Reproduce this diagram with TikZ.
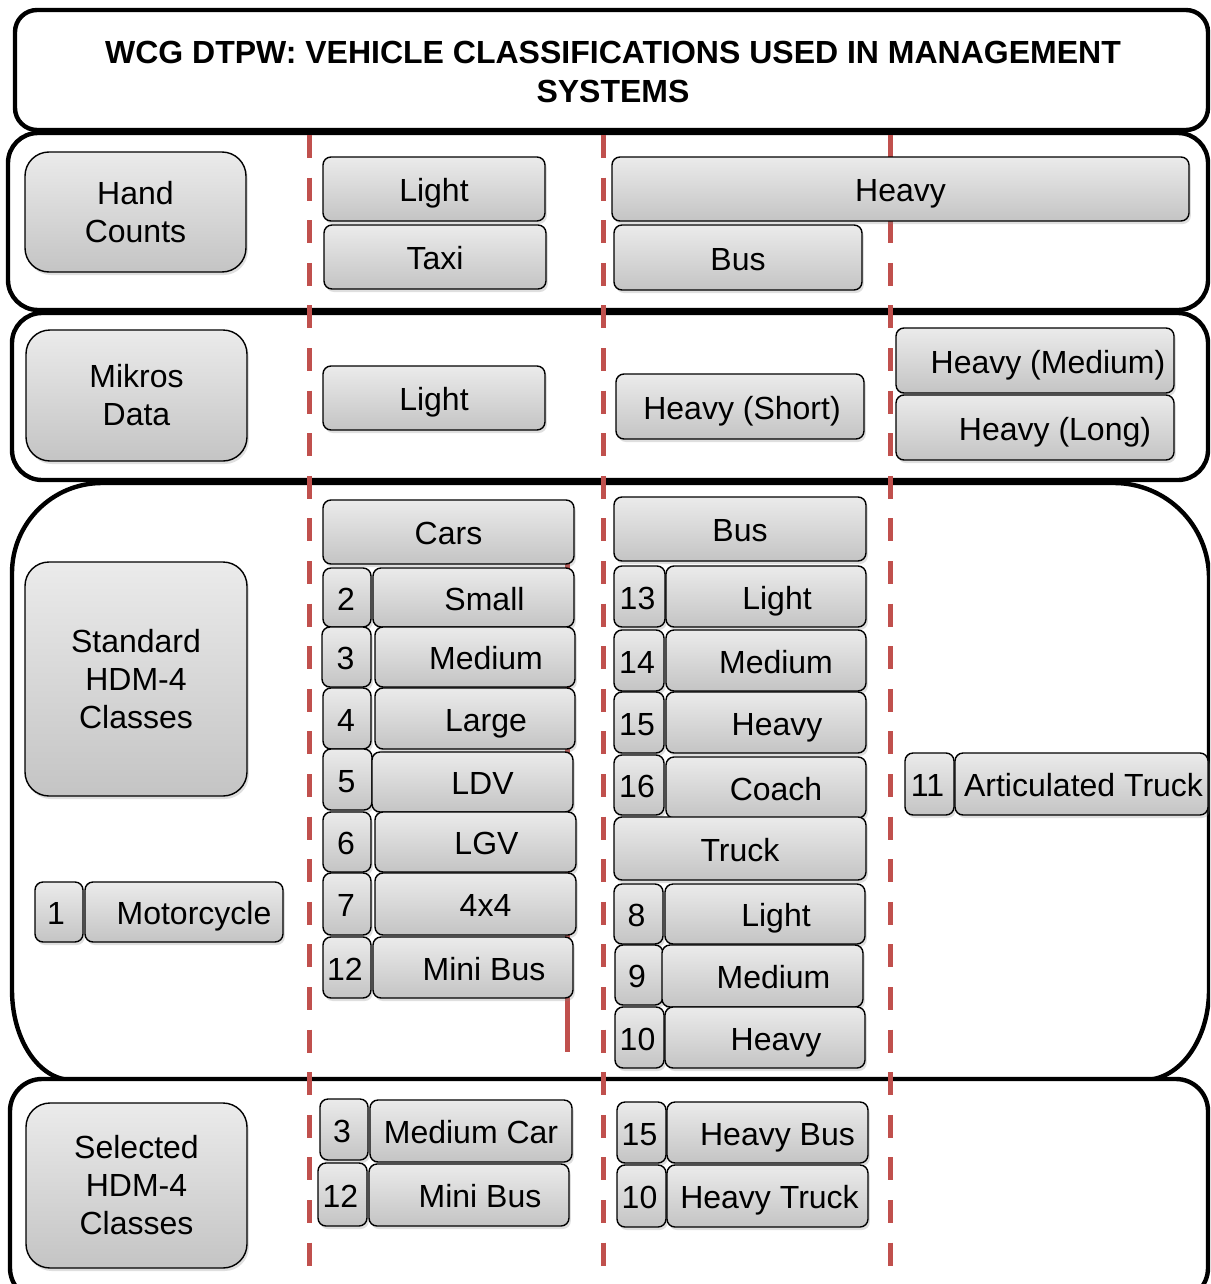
\documentclass[tikz,border=0pt]{standalone}
\usepackage{fontspec}
\setmainfont{Liberation Sans}
\usetikzlibrary{shadows}
\definecolor{dashred}{HTML}{C0504D}
\definecolor{celltop}{HTML}{EBEBEB}
\definecolor{cellbot}{HTML}{C4C4C4}
\tikzset{
  frame/.style={draw=black, line width=2.2pt, fill=white},
  divider/.style={draw=dashred, line width=2.5pt, dash pattern=on 11.5pt off 9.8pt},
  hidden/.style={draw=dashred, line width=2.5pt},
  basebox/.style={draw=black, line width=0.7pt, rounded corners=4pt,
    top color=celltop, bottom color=cellbot,
    drop shadow={shadow xshift=0.9pt, shadow yshift=-1.5pt, opacity=0.25},
    inner sep=0pt, font=\fontsize{16}{19}\selectfont},
  cell/.style={basebox, text height=12.5pt, text depth=0pt},
  headbox/.style={basebox, rounded corners=12pt, align=center},
  titletext/.style={font=\bfseries\fontsize{16}{19.5}\selectfont, align=center}
}
\newcommand\mkcell[7]{\node[cell, minimum width={(#4-#2)*0.5pt}, minimum height={(#5-#3)*0.5pt}] (#1) at ({(#2+#4)/2},{(#3+#5)/2}) {\hspace*{#6pt}#7};}
\newcommand\mkhead[6]{\node[headbox, minimum width={(#4-#2)*0.5pt}, minimum height={(#5-#3)*0.5pt}] (#1) at ({(#2+#4)/2},{(#3+#5)/2}) {#6};}
\begin{document}
\begin{tikzpicture}[x=0.5pt, y=-0.5pt]
\useasboundingbox (0,0) rectangle (1210,1284);
\clip (0,0) rectangle (1210,1284);
% frames
\draw[frame, rounded corners=11pt] (15,10) rectangle (1208,130);
\draw[frame, rounded corners=15pt] (8,133) rectangle (1208,310);
\draw[frame, rounded corners=15pt] (12,313) rectangle (1208,480);
\path[frame] (12,573) .. controls (12,523.3) and (52.3,483) .. (102,483) -- (1114,483)
  .. controls (1166.4,483) and (1209,525.6) .. (1209,578) -- (1209,990)
  .. controls (1209,1039.7) and (1179.9,1080) .. (1144,1080) -- (72,1080)
  .. controls (38.9,1080) and (12,1039.7) .. (12,990) -- cycle;
\draw[frame, rounded corners=16pt] (10,1079) rectangle (1208,1300);
\node[titletext] (title) at (613,71.5) {WCG DTPW: VEHICLE CLASSIFICATIONS USED IN MANAGEMENT\\SYSTEMS};
% dividers
\coordinate (d1t) at (309,135); \coordinate (d1b) at (309,1267);
\coordinate (d2t) at (603,135); \coordinate (d2b) at (603,1267);
\coordinate (d3t) at (890,135); \coordinate (d3b) at (890,1267);
\coordinate (h1) at (567,562); \coordinate (h2) at (567,1052);
\draw[divider] (d1t) -- (d1b);
\draw[divider] (d2t) -- (d2b);
\draw[divider] (d3t) -- (d3b);
\draw[hidden] (h1) -- (h2);
% row headers
\mkhead{hc}{25}{152}{246}{272}{Hand\\Counts}
\mkhead{md}{26}{330}{247}{461}{Mikros\\Data}
\mkhead{std}{25}{562}{247}{796}{Standard\\HDM-4\\Classes}
\mkhead{sel}{26}{1103}{247}{1268}{Selected\\HDM-4\\Classes}
% hand counts
\mkcell{hcl}{323}{157}{545}{221}{0}{Light}
\mkcell{hct}{324}{225}{546}{289}{0}{Taxi}
\mkcell{hch}{612}{157}{1189}{221}{0}{Heavy}
\mkcell{hcb}{614}{225}{862}{290}{0}{Bus}
% mikros
\mkcell{mdl}{323}{366}{545}{430}{0}{Light}
\mkcell{mdhs}{616}{374}{864}{439}{2}{Heavy (Short)}
\mkcell{mdhm}{896}{328}{1174}{393}{13}{Heavy (Medium)}
\mkcell{mdhl}{896}{395}{1174}{460}{20}{Heavy (Long)}
% standard - cars
\mkcell{cars}{323}{500}{574}{564}{0}{Cars}
\mkcell{n2}{323}{568}{371}{627}{-1}{2}
\mkcell{small}{373}{568}{574}{627}{11}{Small}
\mkcell{n3}{322}{627}{371}{687}{-1}{3}
\mkcell{medium}{375}{627}{575}{687}{11}{Medium}
\mkcell{n4}{323}{688}{371}{749}{-1}{4}
\mkcell{large}{375}{688}{575}{749}{11}{Large}
\mkcell{n5}{323}{749}{372}{810}{-1}{5}
\mkcell{ldv}{372}{752}{573}{812}{10}{LDV}
\mkcell{n6}{323}{812}{371}{872}{-1}{6}
\mkcell{lgv}{375}{812}{576}{872}{11}{LGV}
\mkcell{n7}{323}{873}{371}{935}{-1}{7}
\mkcell{fxf}{375}{873}{576}{935}{10}{4x4}
\mkcell{n12}{323}{937}{371}{998}{-2}{12}
\mkcell{minibus}{373}{937}{573}{998}{11}{Mini Bus}
% standard - bus/truck
\mkcell{bus}{614}{497}{866}{561}{0}{Bus}
\mkcell{n13}{614}{566}{665}{627}{-2}{13}
\mkcell{busl}{666}{566}{866}{627}{11}{Light}
\mkcell{n14}{614}{630}{664}{691}{-2}{14}
\mkcell{busm}{666}{630}{866}{691}{10}{Medium}
\mkcell{n15}{614}{692}{664}{753}{-2}{15}
\mkcell{bush}{666}{692}{866}{753}{11}{Heavy}
\mkcell{n16}{614}{755}{664}{815}{-2}{16}
\mkcell{coach}{666}{757}{866}{818}{10}{Coach}
\mkcell{truck}{614}{817}{866}{880}{0}{Truck}
\mkcell{n8}{614}{884}{663}{944}{-2}{8}
\mkcell{trl}{665}{884}{865}{944}{11}{Light}
\mkcell{n9}{615}{945}{663}{1005}{-2}{9}
\mkcell{trm}{662}{945}{863}{1007}{11}{Medium}
\mkcell{n10}{615}{1007}{664}{1068}{-2}{10}
\mkcell{trh}{665}{1007}{865}{1068}{11}{Heavy}
% motorcycle, articulated
\mkcell{n1}{35}{882}{83}{942}{-3}{1}
\mkcell{moto}{85}{882}{283}{942}{10}{Motorcycle}
\mkcell{n11}{905}{753}{954}{815}{-2}{11}
\mkcell{art}{955}{753}{1208}{815}{2}{Articulated Truck}
% selected
\mkcell{s3}{320}{1099}{368}{1160}{-2}{3}
\mkcell{smc}{370}{1100}{572}{1162}{0}{Medium Car}
\mkcell{s12}{318}{1163}{367}{1226}{-2}{12}
\mkcell{smb}{369}{1164}{569}{1226}{11}{Mini Bus}
\mkcell{s15}{617}{1102}{666}{1163}{-2}{15}
\mkcell{shb}{667}{1102}{868}{1163}{10}{Heavy Bus}
\mkcell{s10}{617}{1165}{666}{1227}{-2}{10}
\mkcell{sht}{667}{1165}{868}{1227}{2}{Heavy Truck}
\end{tikzpicture}
\end{document}
